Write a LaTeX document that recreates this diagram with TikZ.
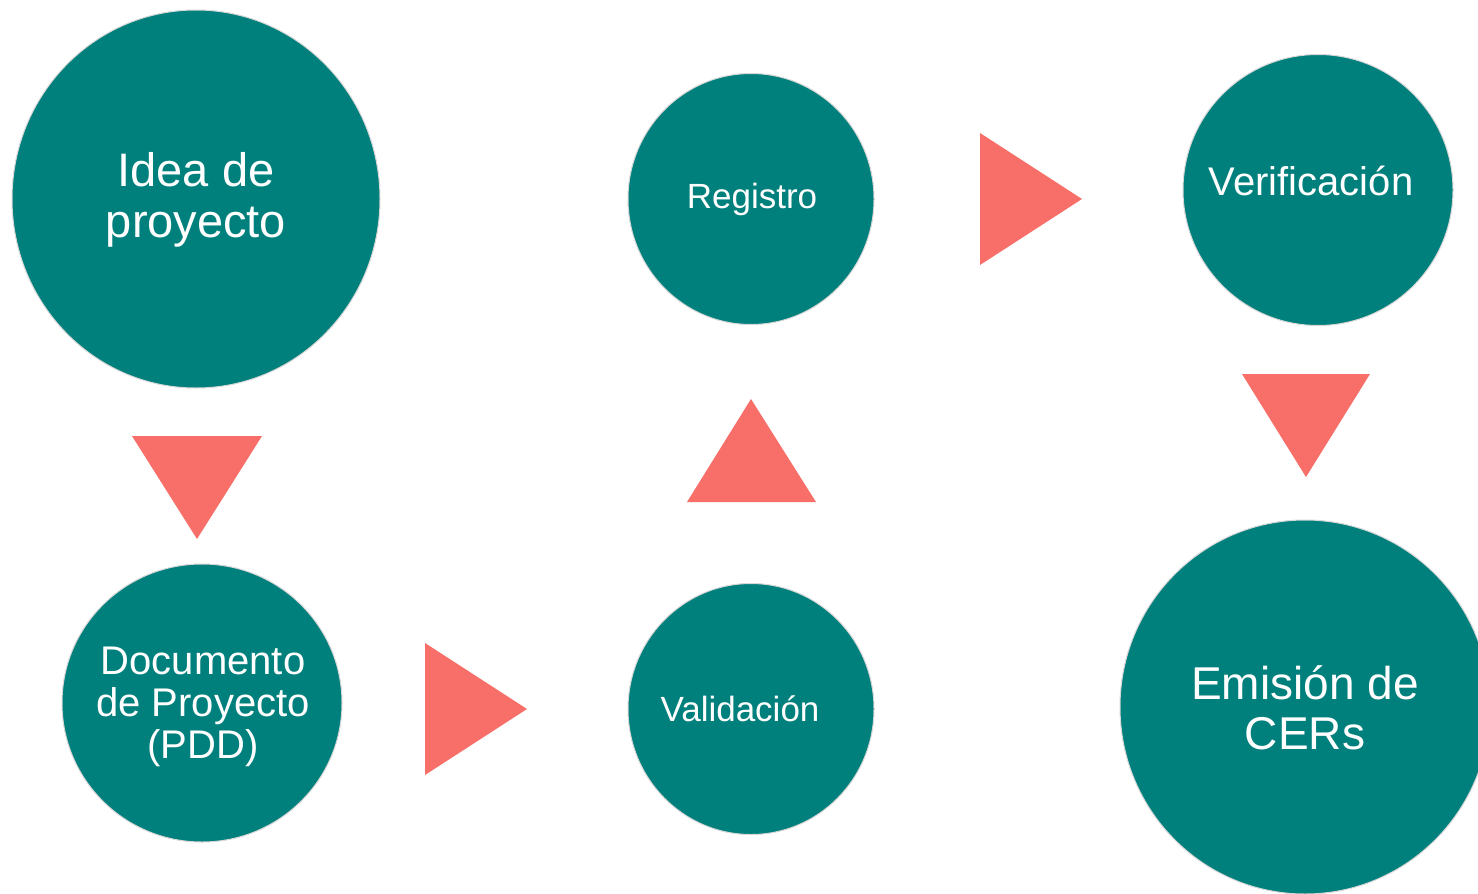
\documentclass[tikz,border=0pt]{standalone}
\usepackage{fontspec}
\setmainfont{Liberation Sans}
\usetikzlibrary{shapes.geometric}
\definecolor{tealc}{RGB}{0,128,124}
\definecolor{coralc}{RGB}{247,111,104}
\definecolor{rimc}{RGB}{215,215,215}
\tikzset{
  stepcircle/.style={ellipse, fill=tealc, draw=rimc, line width=1pt, inner sep=0pt},
  steptext/.style={text=white, align=center, inner sep=0pt},
  arrowtri/.style={fill=coralc, draw=none}
}
\begin{document}
\begin{tikzpicture}[x=1pt,y=-1pt]
\useasboundingbox (0,0) rectangle (1478,894);
\clip (0,0) rectangle (1478,894);
\fill[white] (0,0) rectangle (1478,894);

\node[stepcircle, minimum width=368pt, minimum height=378pt,
  label={[steptext, font=\fontsize{47}{51}\selectfont, yshift=-1pt]center:{Idea de\\proyecto}}] (idea) at (196,199) {};
\node[stepcircle, minimum width=280pt, minimum height=278pt,
  label={[steptext, font=\fontsize{40}{42}\selectfont, yshift=-4pt, xshift=1pt]center:{Documento\\de Proyecto\\(PDD)}}] (pdd) at (202,703) {};
\node[stepcircle, minimum width=246pt, minimum height=251pt,
  label={[steptext, font=\fontsize{35}{40}\selectfont, xshift=-11pt]center:{Validación}}] (val) at (751,709) {};
\node[stepcircle, minimum width=246pt, minimum height=251pt,
  label={[steptext, font=\fontsize{35}{40}\selectfont, xshift=1pt]center:{Registro}}] (reg) at (751,199) {};
\node[stepcircle, minimum width=270pt, minimum height=271pt,
  label={[steptext, font=\fontsize{40}{46}\selectfont, yshift=9pt, xshift=-7pt]center:{Verificación}}] (ver) at (1318,190) {};
\node[stepcircle, minimum width=370pt, minimum height=374pt,
  label={[steptext, font=\fontsize{46}{50}\selectfont, yshift=-1pt]center:{Emisión de\\CERs}}] (cer) at (1305,707) {};

% arrows
\fill[arrowtri] (132,436) -- (262,436) -- (197,539) -- cycle;
\fill[arrowtri] (425,643) -- (527,709) -- (425,775) -- cycle;
\fill[arrowtri] (751,399) -- (816,502) -- (687,502) -- cycle;
\fill[arrowtri] (980,133) -- (1082,199) -- (980,265) -- cycle;
\fill[arrowtri] (1242,374) -- (1370,374) -- (1306,477) -- cycle;
\end{tikzpicture}
\end{document}
